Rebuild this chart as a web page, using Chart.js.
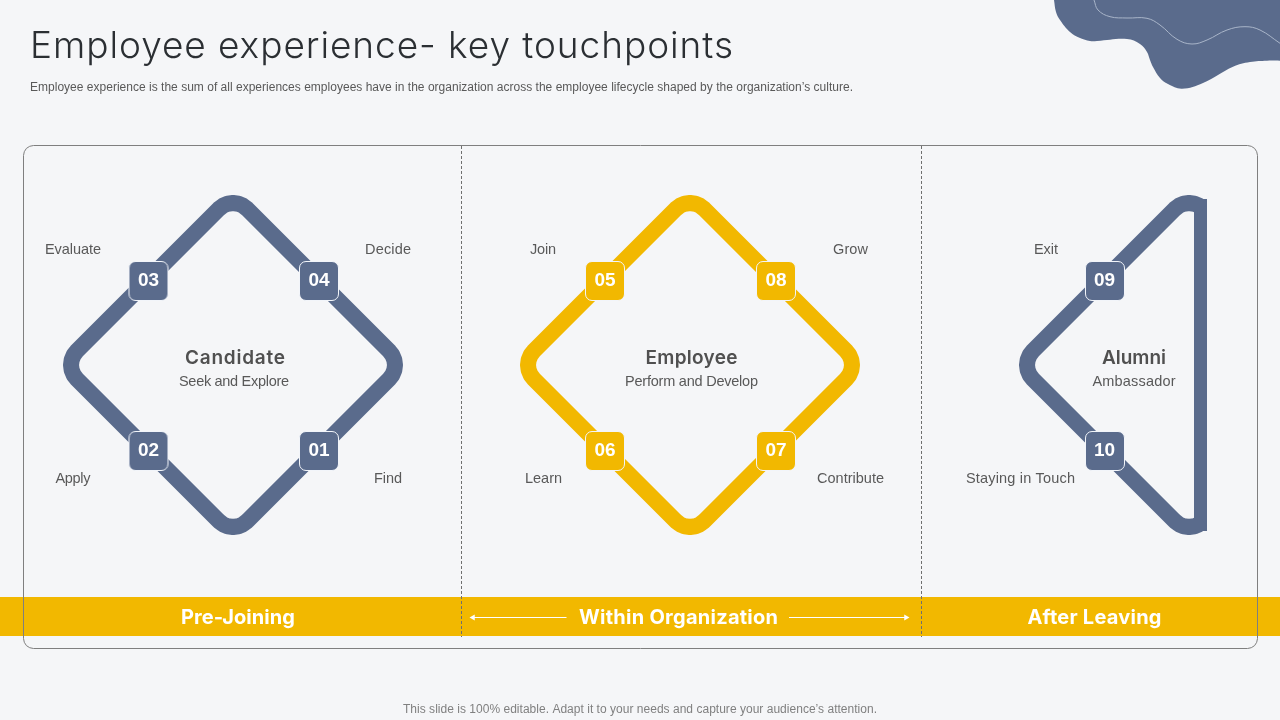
<!DOCTYPE html>
<html><head><meta charset="utf-8">
<style>html,body{margin:0;padding:0;background:#f5f6f8}canvas{display:block}</style>
<script src="https://cdn.jsdelivr.net/npm/chart.js@4"></script>
</head><body><canvas id="c" width="1280" height="720"></canvas>
<script>
/* ---------- text content ---------- */
const titleText = "Employee experience- key touchpoints";
const subtitleText = "Employee experience is the sum of all experiences employees have in the organization across the employee lifecycle shaped by the organization\u2019s culture.";
const footerText = "This slide is 100% editable. Adapt it to your needs and capture your audience\u2019s attention.";
const stepLabels = ["Evaluate","Decide","Apply","Find","Join","Grow","Learn","Contribute","Exit","Staying in Touch"];
const groupTitles = ["Candidate","Employee","Alumni"];
const groupSubtitles = ["Seek and Explore","Perform and Develop","Ambassador"];
const phaseLabels = ["Pre-Joining","Within Organization","After Leaving"];
const blueBadgeLabels = ["03","04","02","01","09","10"];
const yellowBadgeLabels = ["05","08","06","07"];

/* ---------- marks, in slide units ---------- */
const blueBadgeX = [148.5,319,148.5,319,1105,1105];
const blueBadgeY = [281,281,451,451,281,451];
const yellowBadgeX = [605,776,605,776];
const yellowBadgeY = [281,281,451,451];

const ringOffsetX = [85.1, 156.1,159.3,161.3,162,161.3,159.3,156.1, 14.1,10,5.2,0,-5.2,-10,-14.1, -156.1,-159.3,-161.3,-162,-161.3,-159.3,-156.1, -14.1,-10,-5.2,0,5.2,10,14.1, 85.1];
const ringOffsetY = [-85.1, -14.1,-10,-5.2,0,5.2,10,14.1, 156.1,159.3,161.3,162,161.3,159.3,156.1, 14.1,10,5.2,0,-5.2,-10,-14.1, -156.1,-159.3,-161.3,-162,-161.3,-159.3,-156.1, -85.1];
const candidateCentre = [233,365];
const employeeCentre = [690,365];
const alumniRingX = [1203.1,1199,1194.2,1189,1183.8,1179,1174.9,1032.9,1029.7,1027.7,1027,1027.7,1029.7,1032.9,1174.9,1179,1183.8,1189,1194.2,1199,1203.1];
const alumniRingY = [208.9,205.7,203.7,203,203.7,205.7,208.9,350.9,355,359.8,365,370.2,375,379.1,521.1,524.3,526.3,527,526.3,524.3,521.1];
const alumniBarX = [1200.5,1200.5];
const alumniBarY = [199,531];

const blobX = [1054,1056,1060,1070,1080,1090,1097,1127,1140,1147,1150,1153,1160,1168,1182,1203,1233,1250,1267,1280];
const blobY = [0,12,20,32,38,41,41,39,44,52,60,67,78,84,88.7,83,66.7,62,60.7,60.7];
const waveX = [1094,1098,1110,1127,1147,1160,1177,1192,1207,1227,1245,1260,1280];
const waveY = [0,10,16.7,18,18.3,25,39.3,44,40,30,26.7,30,43.3];

const frameX = [23.5,24.3,26.4,29.7,33.5,1247.5,1251.3,1254.6,1256.7,1257.5,1257.5,1256.7,1254.6,1251.3,1247.5,33.5,29.7,26.4,24.3,23.5,23.5];
const frameY = [155.5,151.7,148.4,146.3,145.5,145.5,146.3,148.4,151.7,155.5,638.5,642.3,645.6,647.7,648.5,648.5,647.7,645.6,642.3,638.5,155.5];
const bandX = [0,1280];
const bandY = [616.5,616.5];
const dividerLeftX = [461.5,461.5];
const dividerRightX = [921.5,921.5];
const dividerY = [146,637];
const arrowLeftX = [473,566.5];
const arrowRightX = [789,906];
const arrowY = [617.5,617.5];

/* ---------- styling and layout ---------- */
const BG = "#f5f6f8", BLUE = "#5a6b8c", YELLOW = "#f2b800", SANS = '"Liberation Sans"', GEO = 'Inter';
const pts = (xs, ys) => xs.map((x, i) => ({ x, y: ys[i] }));
const shift = (xs, d) => xs.map(v => v + d);

function badge(color) {
  const s = 42, c = document.createElement("canvas");
  c.width = c.height = s;
  const g = c.getContext("2d");
  g.beginPath(); g.roundRect(1.5, 1.5, 39, 39, 6.5);
  g.fillStyle = color; g.fill();
  g.lineWidth = 1; g.strokeStyle = "#f2f5fa"; g.stroke();
  return c;
}
/* a very long dash keeps Chart.js on its exact point-by-point path */
const SOLID = [100000, 1];
const line = (data, color, width, order, extra) => Object.assign({
  data, showLine: true, borderColor: color, backgroundColor: color, borderWidth: width,
  pointRadius: 0, order, tension: 0, fill: false, borderDash: SOLID
}, extra || {});

const datasets = [
  line(pts(blobX, blobY), BLUE, 0, 9, { tension: 0.4, fill: { value: 0 }, borderWidth: 0, borderDash: [] }),
  line(pts(waveX, waveY), "#a9b5c9", 1, 8, { tension: 0.4, borderDash: [] }),
  line(pts(bandX, bandY), YELLOW, 39, 7, { borderCapStyle: "butt" }),
  line(pts(frameX, frameY), "#7f7f7f", 1, 2),
  line(pts(dividerLeftX, dividerY), "#6f6f6f", 1, 2, { borderDash: [3, 2] }),
  line(pts(dividerRightX, dividerY), "#6f6f6f", 1, 2, { borderDash: [3, 2] }),
  line(pts(shift(ringOffsetX, candidateCentre[0]), shift(ringOffsetY, candidateCentre[1])), BLUE, 16, 5, { borderJoinStyle: "round" }),
  line(pts(shift(ringOffsetX, employeeCentre[0]), shift(ringOffsetY, employeeCentre[1])), YELLOW, 16, 5, { borderJoinStyle: "round" }),
  line(pts(alumniRingX, alumniRingY), BLUE, 16, 5, { borderJoinStyle: "round", clip: { left: 0, top: 0, right: -73, bottom: 0 } }),
  line(pts(alumniBarX, alumniBarY), BLUE, 13, 5),
  line(pts(arrowLeftX, arrowY), "#ffffff", 1, 1),
  line(pts(arrowRightX, arrowY), "#ffffff", 1, 1),
  { data: [{ x: arrowLeftX[0], y: arrowY[0] }], pointStyle: "triangle", pointRotation: -90, pointRadius: 3.5, backgroundColor: "#fff", borderWidth: 0, order: 1 },
  { data: [{ x: arrowRightX[1], y: arrowY[1] }], pointStyle: "triangle", pointRotation: 90, pointRadius: 3.5, backgroundColor: "#fff", borderWidth: 0, order: 1 },
  { data: pts(blueBadgeX, blueBadgeY), pointStyle: badge(BLUE), order: 1 },
  { data: pts(yellowBadgeX, yellowBadgeY), pointStyle: badge(YELLOW), order: 1 }
];

/* x, y (middle), target width */
const stepPos = [[73,250,56],[388,250,46],[73,479,35],[388,479,28],[543,250,26],[850.5,250,35],[543.5,479,37],[850.5,479,67],[1046,250,24],[1020.5,479,109]];
const groupTitlePos = [[235,358,100],[691.5,358,92],[1134,358,64]];
const groupSubPos = [[234,382,110],[691.5,382,133],[1134,382,83]];
const phasePos = [[238,618,114],[678.5,618,199],[1094.5,618,134]];
const badgeTextNudge = [0,0,0,0,-0.5,-0.5];

const textPlugin = {
  id: "texts",
  beforeDraw(ch) {
    const g = ch.ctx; g.save(); g.fillStyle = BG; g.fillRect(0, 0, ch.width, ch.height); g.restore();
  },
  afterDatasetsDraw(ch) {
    const g = ch.ctx, X = ch.scales.x, Y = ch.scales.y;
    const put = (s, cx, cy, w, font, color) => {
      g.font = font; g.fillStyle = color; g.textAlign = "left"; g.textBaseline = "middle";
      g.letterSpacing = "0px";
      const m = g.measureText(s).width;
      const ls = w ? (w - m) / Math.max(1, s.length - 1) : 0;
      g.letterSpacing = ls.toFixed(3) + "px";
      const tw = w || m;
      g.fillText(s, X.getPixelForValue(cx) - tw / 2, Y.getPixelForValue(cy));
      g.letterSpacing = "0px";
    };
    g.save();
    put(titleText, 381.5, 47, 703, `300 37px ${GEO}`, "#2b2f33");
    put(subtitleText, 441.5, 88, 823, `12px ${SANS}`, "#595959");
    put(footerText, 640, 710, 474, `12px ${SANS}`, "#808080");
    stepLabels.forEach((s, i) => put(s, stepPos[i][0], stepPos[i][1], stepPos[i][2], `14.5px ${SANS}`, "#595959"));
    groupTitles.forEach((s, i) => put(s, groupTitlePos[i][0], groupTitlePos[i][1], groupTitlePos[i][2], `600 19px ${GEO}`, "#505050"));
    groupSubtitles.forEach((s, i) => put(s, groupSubPos[i][0], groupSubPos[i][1], groupSubPos[i][2], `14.5px ${SANS}`, "#595959"));
    phaseLabels.forEach((s, i) => put(s, phasePos[i][0], phasePos[i][1], phasePos[i][2], `700 20px ${GEO}`, "#ffffff"));
    blueBadgeLabels.forEach((s, i) => put(s, blueBadgeX[i] + badgeTextNudge[i], blueBadgeY[i], 0, `bold 19px ${SANS}`, "#ffffff"));
    yellowBadgeLabels.forEach((s, i) => put(s, yellowBadgeX[i], yellowBadgeY[i], 0, `bold 19px ${SANS}`, "#ffffff"));
    g.restore();
  }
};

new Chart(document.getElementById("c"), {
  type: "scatter",
  data: { datasets },
  plugins: [textPlugin],
  options: {
    responsive: false, animation: false, devicePixelRatio: 1,
    layout: { padding: 0, autoPadding: false },
    plugins: { legend: { display: false }, tooltip: { enabled: false }, title: { display: false } },
    scales: {
      x: { type: "linear", min: 0, max: 1280, display: false },
      y: { type: "linear", min: 0, max: 720, reverse: true, display: false }
    }
  }
});
</script></body></html>
